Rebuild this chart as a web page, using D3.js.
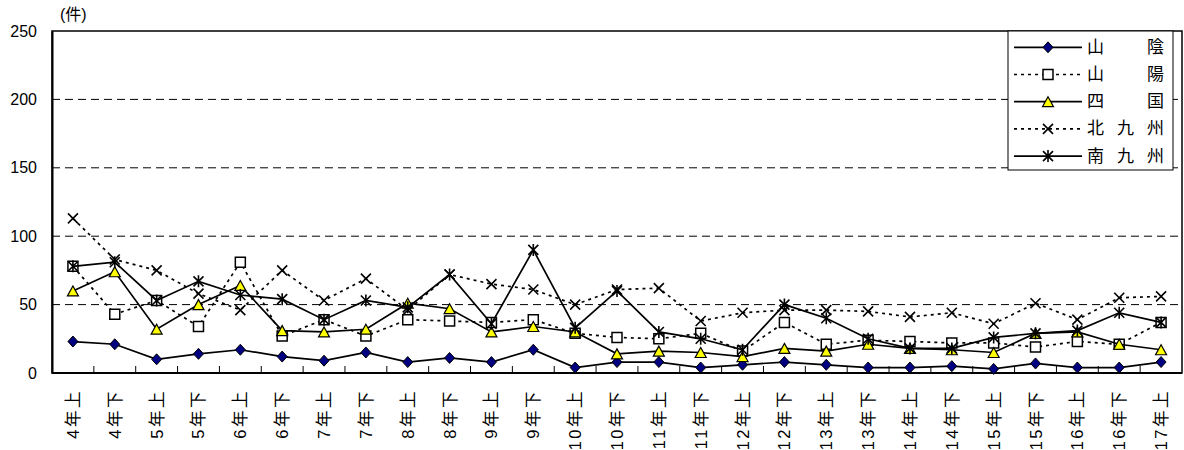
<!DOCTYPE html>
<html>
<head>
<meta charset="utf-8">
<script src="https://cdn.jsdelivr.net/npm/d3@7"></script>
<style>
  html, body { margin: 0; padding: 0; background: #fff; }
  svg { display: block; }
  text { font-family: "Liberation Sans", Arial, "Noto Sans CJK JP", sans-serif; fill: #000; }
</style>
</head>
<body>
<svg id="chart" width="1184" height="450"></svg>
<script>
// Half-year periods
const categories = ["4年上","4年下","5年上","5年下","6年上","6年下","7年上","7年下","8年上","8年下",
  "9年上","9年下","10年上","10年下","11年上","11年下","12年上","12年下","13年上","13年下",
  "14年上","14年下","15年上","15年下","16年上","16年下","17年上"];

// Counts per region (件)
const sanin     = [23,21,10,14,17,12, 9,15, 8,11, 8,17, 4, 8, 8, 4, 6, 8, 6, 4, 4, 5, 3, 7, 4, 4, 8];
const sanyo     = [78,43,53,34,81,27,39,27,39,38,37,39,29,26,25,29,16,37,21,24,23,22,22,19,23,21,37];
const shikoku   = [60,74,32,50,64,31,30,32,51,47,30,34,30,14,16,15,12,18,16,21,18,17,15,29,30,21,17];
const kitaKyu   = [113,83,75,58,46,75,53,69,46,72,65,61,50,61,62,38,44,46,46,45,41,44,36,51,39,55,56];
const minamiKyu = [78,81,53,67,57,54,39,53,48,72,36,90,33,60,30,25,17,50,40,25,18,18,26,29,31,44,37];

const yTicks = [0, 50, 100, 150, 200, 250];
const unitLabel = "(件)";

const seriesNames = [["山","","陰"],["山","","陽"],["四","","国"],["北","九","州"],["南","九","州"]];

const series = [
  { values: sanin,     dash: null,  marker: "diamond" },
  { values: sanyo,     dash: "3,4", marker: "square" },
  { values: shikoku,   dash: null,  marker: "triangle" },
  { values: kitaKyu,   dash: "3,4", marker: "x" },
  { values: minamiKyu, dash: null,  marker: "asterisk" }
];

const svg = d3.select("#chart");
const plot = { left: 52, right: 1182, top: 31, bottom: 373 };

const x = d3.scaleBand().domain(categories).range([plot.left, plot.right]).padding(0);
const cx = d => x(d) + x.bandwidth() / 2;
const y = d3.scaleLinear().domain([0, 250]).range([plot.bottom, plot.top]);

// Dashed gridlines
svg.append("g").selectAll("line")
  .data(yTicks.filter(t => t > 0 && t < 250))
  .join("line")
  .attr("x1", plot.left).attr("x2", plot.right)
  .attr("y1", d => y(d)).attr("y2", d => y(d))
  .attr("stroke", "#000").attr("stroke-width", 1)
  .attr("stroke-dasharray", "8,5");

// Plot frame
svg.append("rect")
  .attr("x", plot.left).attr("y", plot.top)
  .attr("width", plot.right - plot.left).attr("height", plot.bottom - plot.top)
  .attr("fill", "none").attr("stroke", "#000").attr("stroke-width", 1.5);

// Y axis
const yAxis = svg.append("g")
  .attr("transform", `translate(${plot.left},0)`)
  .call(d3.axisLeft(y).tickValues(yTicks).tickSize(0).tickPadding(15));
yAxis.select(".domain").attr("stroke", "#000").attr("stroke-width", 2);
yAxis.selectAll("text")
  .style("font-family", '"Liberation Sans", Arial, sans-serif')
  .style("font-size", "16px").attr("fill", "#000");

svg.append("text")
  .attr("x", 60).attr("y", 20)
  .style("font-size", "16px")
  .text(unitLabel);

// X axis: inward ticks at the category boundaries
const xAxisG = svg.append("g");
xAxisG.append("line")
  .attr("x1", plot.left).attr("x2", plot.right)
  .attr("y1", plot.bottom).attr("y2", plot.bottom)
  .attr("stroke", "#000").attr("stroke-width", 2);
xAxisG.selectAll("line.tick")
  .data(categories.slice(1))
  .join("line")
  .attr("class", "tick")
  .attr("x1", d => x(d)).attr("x2", d => x(d))
  .attr("y1", plot.bottom).attr("y2", plot.bottom - 7)
  .attr("stroke", "#000").attr("stroke-width", 1);

xAxisG.selectAll("text")
  .data(categories)
  .join("text")
  .attr("transform", d => `translate(${cx(d)},389) rotate(-90)`)
  .attr("text-anchor", "end")
  .attr("dominant-baseline", "central")
  .style("font-size", "16.5px")
  .style("letter-spacing", "2.5px")
  .text(d => d);

// Marker shapes
function markerPath(type) {
  switch (type) {
    case "diamond":  return "M0,-5.5L5,0L0,5.5L-5,0Z";
    case "square":   return "M-5,-5H5V5H-5Z";
    case "triangle": return "M0,-5L5.5,5H-5.5Z";
    case "x":        return "M-5,-5L5,5M5,-5L-5,5";
    case "asterisk": return "M-5,-5L5,5M5,-5L-5,5M0,-6V6";
  }
}
function markerStyle(sel, type) {
  if (type === "diamond") sel.attr("fill", "#000080").attr("stroke", "#000").attr("stroke-width", 1);
  else if (type === "square") sel.attr("fill", "#fff").attr("stroke", "#000").attr("stroke-width", 1.5);
  else if (type === "triangle") sel.attr("fill", "#ffff00").attr("stroke", "#000").attr("stroke-width", 1.2);
  else sel.attr("fill", "none").attr("stroke", "#000").attr("stroke-width", 1.6);
  return sel;
}

const line = d3.line().x((d, i) => cx(categories[i])).y(d => y(d));

series.forEach(s => {
  const g = svg.append("g");
  g.append("path")
    .datum(s.values)
    .attr("d", line)
    .attr("fill", "none")
    .attr("stroke", "#000")
    .attr("stroke-width", 1.7)
    .attr("stroke-dasharray", s.dash);
  g.selectAll("path.mk")
    .data(s.values)
    .join("path")
    .attr("class", "mk")
    .attr("transform", (d, i) => `translate(${cx(categories[i])},${y(d)})`)
    .attr("d", markerPath(s.marker))
    .call(sel => markerStyle(sel, s.marker));
});

// Legend
const legend = svg.append("g");
legend.append("rect")
  .attr("x", 1008).attr("y", 31).attr("width", 165).attr("height", 139)
  .attr("fill", "#fff").attr("stroke", "#000").attr("stroke-width", 1);
series.forEach((s, i) => {
  const ly = 47.3 + i * 27.2;
  legend.append("line")
    .attr("x1", 1014).attr("x2", 1082).attr("y1", ly).attr("y2", ly)
    .attr("stroke", "#000").attr("stroke-width", 1.7)
    .attr("stroke-dasharray", s.dash);
  legend.append("path")
    .attr("transform", `translate(1048,${ly})`)
    .attr("d", markerPath(s.marker))
    .call(sel => markerStyle(sel, s.marker));
  seriesNames[i].forEach((ch, j) => {
    if (!ch) return;
    legend.append("text")
      .attr("x", 1095.5 + j * 30).attr("y", ly)
      .attr("text-anchor", "middle")
      .attr("dominant-baseline", "central")
      .style("font-size", "17px")
      .text(ch);
  });
});
</script>
</body>
</html>
